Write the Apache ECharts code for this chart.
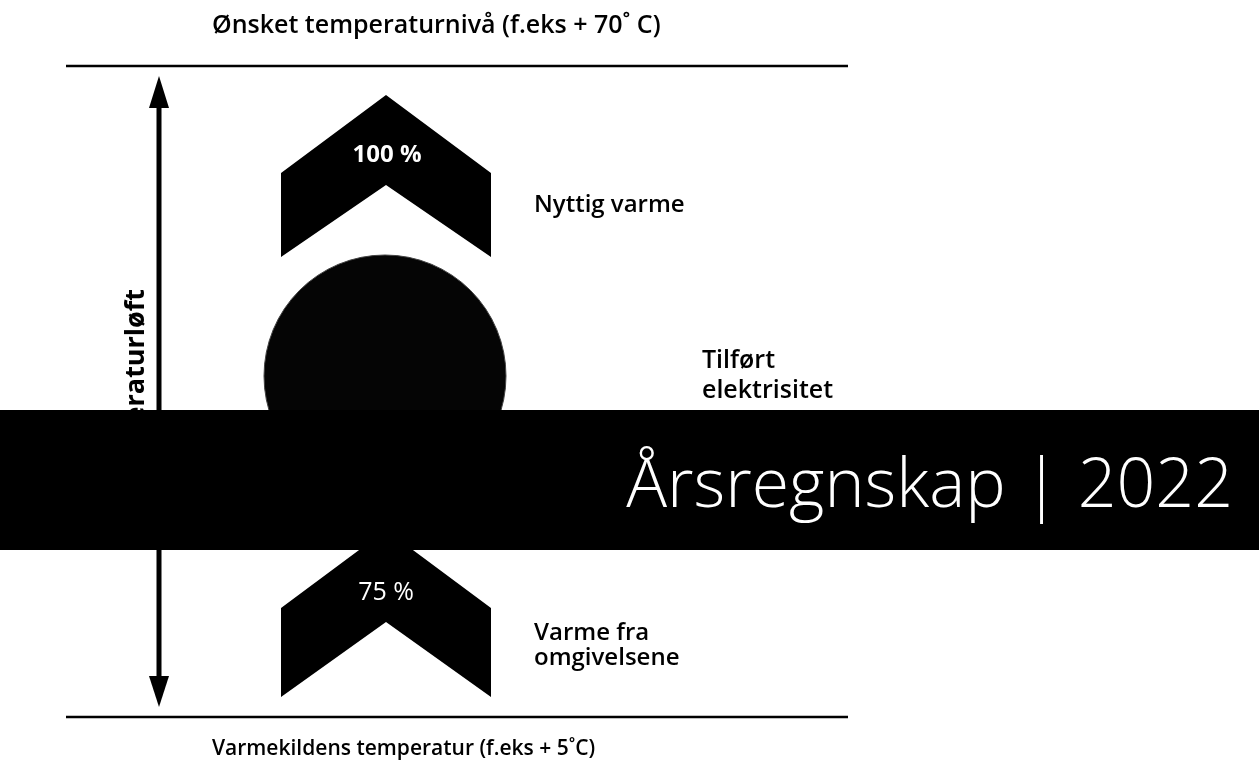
<!DOCTYPE html>
<html lang="no">
<head>
<meta charset="UTF-8">
<title>Varmepumpe</title>
<script src="https://cdn.jsdelivr.net/npm/echarts@6/dist/echarts.min.js"></script>
<style>
  html, body { margin: 0; padding: 0; background: #fff; }
  #main { width: 1259px; height: 763px; }
</style>
</head>
<body>
<div id="main"></div>
<script>
// tekster og verdier fra figuren
var topLabel = 'Ønsket temperaturnivå (f.eks + 70˚ C)';
var bottomLabel = 'Varmekildens temperatur (f.eks + 5˚C)';
var axisLabel = 'Temperaturløft';
var chevronPct = ['100 %', '75 %'];
var sideLabels = [['Nyttig varme'], ['Tilført', 'elektrisitet'], ['Varme fra', 'omgivelsene']];
var bannerText = 'Årsregnskap | 2022';

var chart = echarts.init(document.getElementById('main'));
var font = '"Open Sans", "Noto Sans", sans-serif';

// chevron: spiss i (cx, top), halv bredde w, skuldre på top+dy, innerspiss på inner, bunn på bottom
function chev(cx, top, w, dy, inner, bottom) {
    return [[cx, top], [cx + w, top + dy], [cx + w, bottom], [cx, inner], [cx - w, bottom], [cx - w, top + dy]];
}

var g = [];
// horisontale linjer
g.push({ type: 'line', shape: { x1: 66, y1: 66, x2: 848, y2: 66 }, style: { stroke: '#000', lineWidth: 2.5 } });
g.push({ type: 'line', shape: { x1: 66, y1: 717, x2: 848, y2: 717 }, style: { stroke: '#000', lineWidth: 2.5 } });

// dobbeltpil
g.push({ type: 'line', shape: { x1: 159, y1: 100, x2: 159, y2: 684 }, style: { stroke: '#000', lineWidth: 5 } });
g.push({ type: 'polygon', shape: { points: [[159, 76], [169, 108], [149, 108]] }, style: { fill: '#000' } });
g.push({ type: 'polygon', shape: { points: [[159, 707], [169, 676], [149, 676]] }, style: { fill: '#000' } });

// rotert tekst (leses nedenfra og opp)
g.push({
    type: 'text', x: 136, y: 289, rotation: Math.PI / 2,
    style: { text: axisLabel, font: 'bold 27px ' + font, fill: '#000', align: 'right', verticalAlign: 'middle' }
});

// sirkel
g.push({ type: 'circle', shape: { cx: 385, cy: 376, r: 121 }, style: { fill: '#050505', stroke: '#444', lineWidth: 1 } });

// chevroner
g.push({ type: 'polygon', shape: { points: chev(386, 95, 105, 78, 185, 257) }, style: { fill: '#000' } });
g.push({ type: 'polygon', shape: { points: chev(386, 530, 105, 78, 622, 697) }, style: { fill: '#000' } });
g.push({ type: 'text', x: 387, y: 155, style: { text: chevronPct[0], font: 'bold 24px ' + font, fill: '#fff', align: 'center', verticalAlign: 'middle' } });

// banner
g.push({ type: 'rect', shape: { x: 0, y: 410, width: 1259, height: 140 }, style: { fill: '#000' } });
g.push({ type: 'text', x: 1233, y: 488, style: { text: bannerText, font: '300 68px ' + font, fill: '#fff', align: 'right', verticalAlign: 'middle' } });

g.push({ type: 'text', x: 386, y: 593, style: { text: chevronPct[1], font: '25px ' + font, fill: '#fff', align: 'center', verticalAlign: 'middle' } });

// sidetekster: [x, y første linje, linjeavstand]
var sidePos = [[534, 205, 0], [702, 361, 30], [534, 633, 25]];
var sideSize = [24, 25, 24];
sideLabels.forEach(function (lines, i) {
    lines.forEach(function (t, j) {
        g.push({ type: 'text', x: sidePos[i][0], y: sidePos[i][1] + j * sidePos[i][2],
            style: { text: t, font: '600 ' + sideSize[i] + 'px ' + font, fill: '#000', align: 'left', verticalAlign: 'middle' } });
    });
});

// topp og bunn
g.push({ type: 'text', x: 212, y: 26, style: { text: topLabel, font: '600 25px ' + font, fill: '#000', align: 'left', verticalAlign: 'middle' } });
g.push({ type: 'text', x: 212, y: 749, style: { text: bottomLabel, font: '600 21px ' + font, fill: '#000', align: 'left', verticalAlign: 'middle' } });

chart.setOption({
    animation: false,
    backgroundColor: '#fff',
    graphic: { elements: g }
});
</script>
</body>
</html>
